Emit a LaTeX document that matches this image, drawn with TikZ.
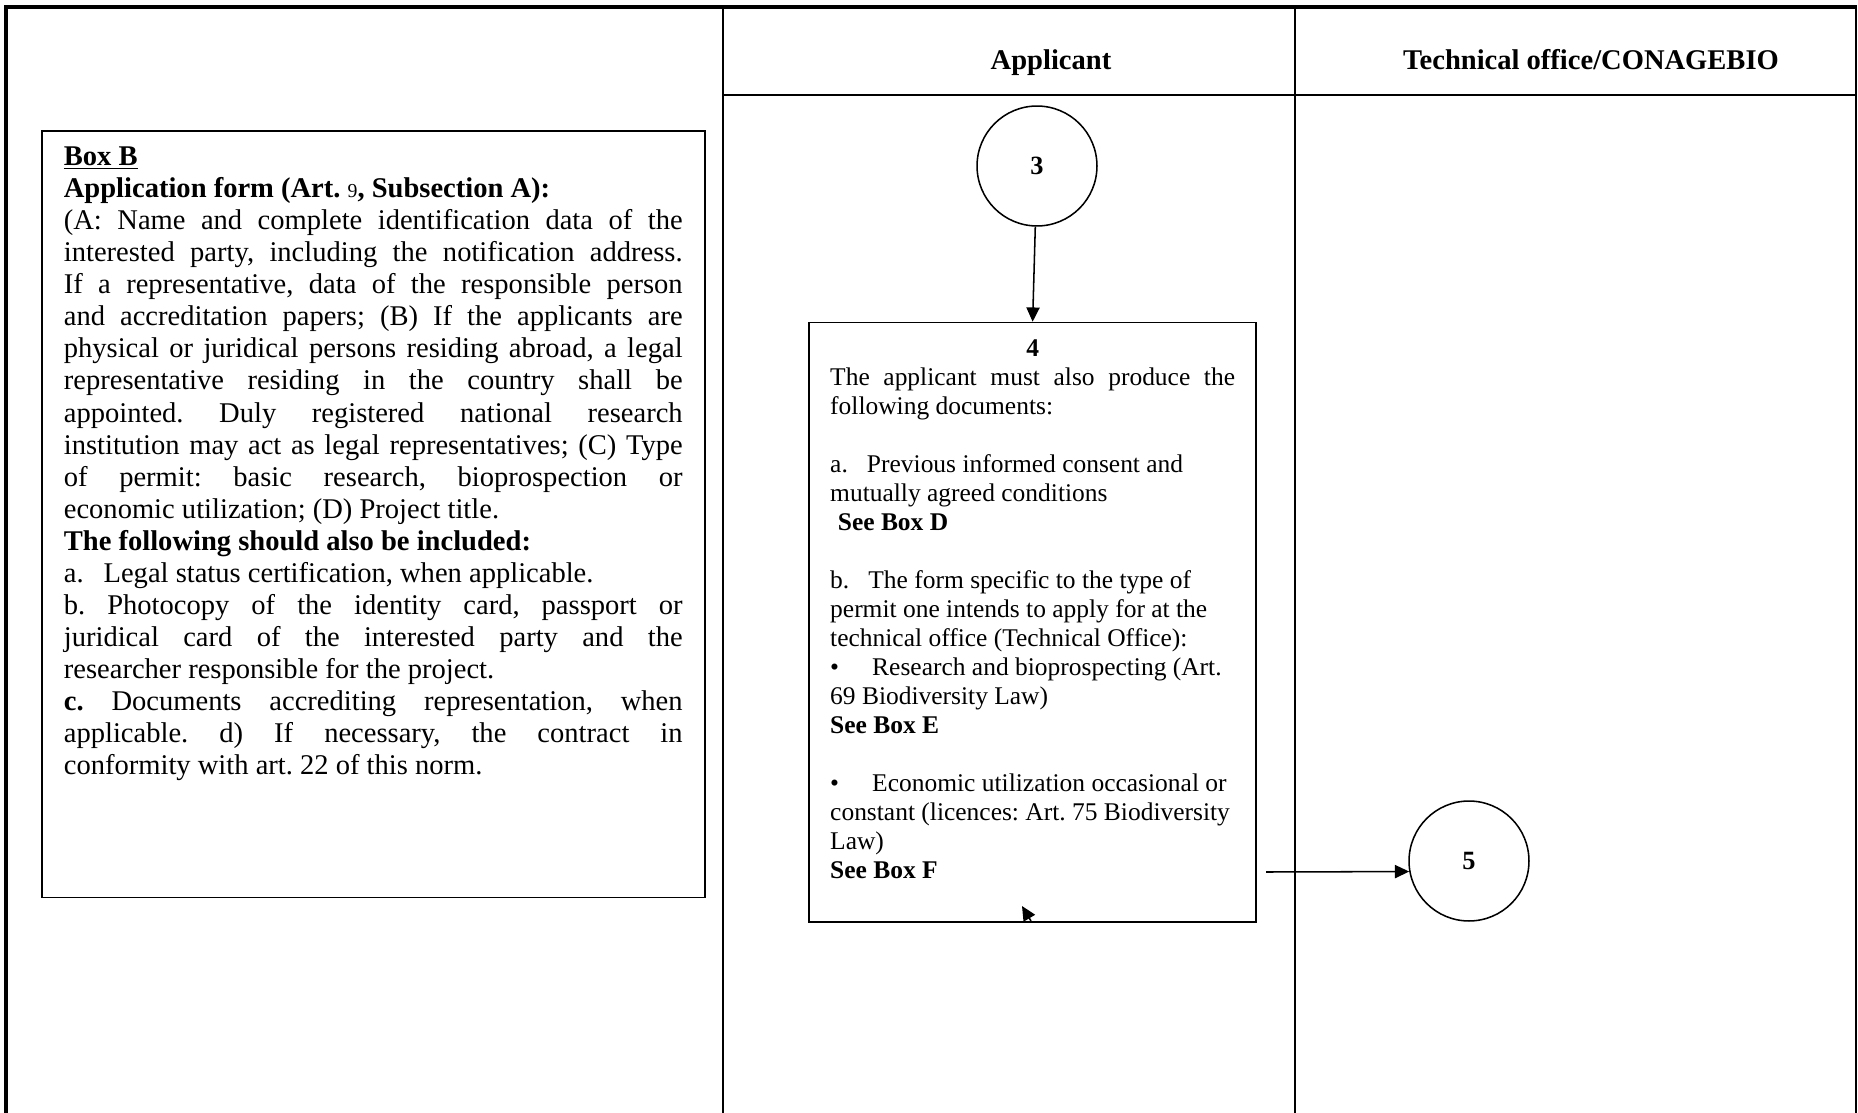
\documentclass[tikz,border=0pt]{standalone}
\usepackage{fontspec}
\setmainfont{Liberation Serif}
\usetikzlibrary{positioning,arrows.meta}

\begin{document}
\frenchspacing
\begin{tikzpicture}[x=0.016cm, y=-0.016cm,
        frame_line/.style={black, line width=1.4pt},
        lane_line/.style={black, line width=0.7pt},
        lane_title/.style={anchor=base, font=\fontsize{13}{15}\selectfont\bfseries},
        step_node/.style={circle, draw=black, line width=0.7pt, minimum size=1.92cm, inner sep=0pt, font=\fontsize{12}{14}\selectfont\bfseries},
        text_box/.style={rectangle, draw=black, line width=0.8pt, inner sep=0pt},
        flow_arrow/.style={black, line width=0.7pt, -{Triangle[length=6.5pt, width=6pt]}},
        ]
            \useasboundingbox (0,0) rectangle (1858,1113);

            % lanes
            \draw[frame_line] (6,1113) -- (6,7) -- (1857,7);
            \draw[lane_line]  (1856,7) -- (1856,1113);
            \draw[lane_line]  (723,7) -- (723,1113);
            \draw[lane_line]  (1295,7) -- (1295,1113);
            \draw[lane_line]  (723,95) -- (1856,95);
            \node[lane_title]   (title_app)   at (1051,69.5)    {Applicant};
            \node[lane_title]   (title_tech)  at (1591,69.5)    {Technical office/CONAGEBIO};

            % box B
            \node[text_box, anchor=north west, inner xsep=0.352cm, inner ysep=0.256cm] (box_b) at (41,130)
            {\parbox[t][11.76cm][t]{9.904cm}{\fontsize{13}{14.6}\selectfont\frenchspacing
            \underline{\textbf{Box B}}\\
            \textbf{Application form (Art. {\mdseries\small 9}, Subsection A):}\par
            (A: Name and complete identification data of the\linebreak
            interested party, including the notification address.\linebreak
            If a representative, data of the responsible person\linebreak
            and accreditation papers; (B) If the applicants are\linebreak
            physical or juridical persons residing abroad, a legal\linebreak
            representative residing in the country shall be\linebreak
            appointed. Duly registered national research\linebreak
            institution may act as legal representatives; (C) Type\linebreak
            of permit: basic research, bioprospection or\linebreak
            economic utilization; (D) Project title.\par
            \textbf{The following should also be included:}\par
            a.\hspace{0.7em}Legal status certification, when applicable.\par
            b.~Photocopy of the identity card, passport or\linebreak
            juridical card of the interested party and the\linebreak
            researcher responsible for the project.\par
            \textbf{c.}~Documents accrediting representation, when\linebreak
            applicable. d) If necessary, the contract in\linebreak
            conformity with art. 22 of this norm.}};

            % applicant steps
            \node[step_node]    (step_3)   at (1037,166)                          {3};
            \node[text_box, inner xsep=0.336cm, inner ysep=0.272cm] (box_4) [below = 15.2mm of step_3, xshift=-0.07cm]
            {\parbox[t][9.056cm][t]{6.48cm}{\fontsize{11.6}{13.2}\selectfont\frenchspacing\hyphenpenalty=10000
            {\centering\textbf{4}\par}
            The applicant must also produce the\linebreak
            following documents:\par
            \vspace{\baselineskip}
            a.\hspace{0.75em}Previous informed consent and\\
            mutually agreed conditions\\
            \hspace*{0.3em}\textbf{See Box D}\par
            \vspace{\baselineskip}
            b.\hspace{0.75em}The form specific to the type of\\
            permit one intends to apply for at the\\
            technical office (Technical Office):\\
            \textbullet\hspace{1.3em}Research and bioprospecting (Art.\\
            69 Biodiversity Law)\\
            \textbf{See Box E}\par
            \vspace{\baselineskip}
            \textbullet\hspace{1.3em}Economic utilization occasional or\\
            constant (licences: Art. 75 Biodiversity\\
            Law)\\
            \textbf{See Box F}}};

            % technical office steps
            \node[step_node]    (step_5)   at (1469,861)                          {5};

            % Lines
            \coordinate (out_4)     at (1266,872);
            \coordinate (in_base)   at (1031,921);
            \coordinate (in_tip)    at (1022,906);
            \draw[flow_arrow] (step_3) -- (box_4.north);
            \draw[flow_arrow] (out_4) -- (step_5.190);
            \draw[flow_arrow] (in_base) -- (in_tip);

        \end{tikzpicture}
\end{document}
